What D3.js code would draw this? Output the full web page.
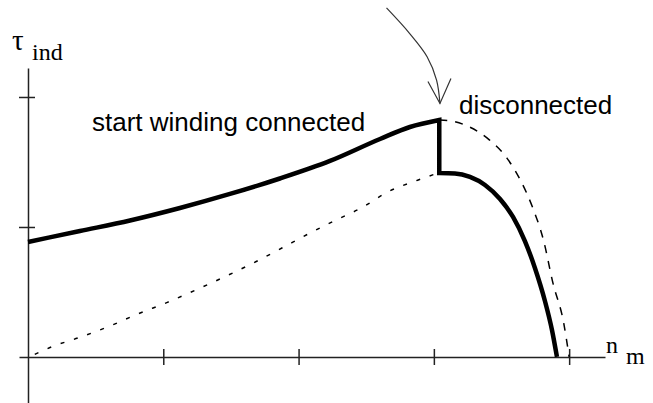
<!DOCTYPE html>
<html>
<head>
<meta charset="utf-8">
<script src="https://d3js.org/d3.v7.min.js"></script>
<style>
  body { margin: 0; background: #fff; }
  svg { display: block; }
</style>
</head>
<body>
<div id="chart"></div>
<script>
// speed in tick units (4 = synchronous speed), torque in tick units
const connSpeed = [0, 0.384, 0.754, 1.123, 1.493, 1.862, 2.232, 2.602, 2.823, 3.04];
const connTorque = [0.885, 0.969, 1.050, 1.146, 1.254, 1.373, 1.508, 1.677, 1.769, 1.823];

const discSpeed = [3.04, 3.156, 3.267, 3.378, 3.489, 3.585, 3.673, 3.747, 3.821, 3.873, 3.91];
const discTorque = [1.415, 1.412, 1.385, 1.323, 1.215, 1.077, 0.892, 0.685, 0.431, 0.208, 0];

const startSpeed = [3.04, 3.13, 3.24, 3.41, 3.54, 3.64, 3.73, 3.81, 3.88, 3.96, 4.0];
const startTorque = [1.823, 1.815, 1.78, 1.67, 1.53, 1.36, 1.15, 0.90, 0.57, 0.26, 0];

const mainSpeed = [0.05, 0.18, 0.38, 0.61, 0.81, 1.03, 1.25, 1.46, 1.66, 1.88, 2.06, 2.27, 2.47, 2.66, 2.88, 3.03];
const mainTorque = [0.02, 0.08, 0.15, 0.24, 0.33, 0.42, 0.52, 0.62, 0.72, 0.84, 0.94, 1.05, 1.15, 1.27, 1.36, 1.415];

const arrowSpeed = [2.65, 2.82, 2.95, 3.02, 3.045];
const arrowTorque = [2.685, 2.49, 2.31, 2.13, 1.95];

const xTicks = [1, 2, 3, 4];
const yTicks = [1, 2];

const width = 653;
const height = 403;

const svg = d3.select("#chart")
  .append("svg")
  .attr("width", width)
  .attr("height", height);

const x = d3.scaleLinear().domain([-0.0665, 4.265]).range([19, 605]);
const y = d3.scaleLinear().domain([-0.354, 2.223]).range([403, 68]);

const zip = (a, b) => a.map((v, i) => [v, b[i]]);

// axes
const xAxis = svg.append("g")
  .attr("transform", `translate(0,${y(0)})`)
  .call(d3.axisBottom(x).tickValues(xTicks).tickFormat("").tickSizeOuter(0));
xAxis.selectAll(".tick line").attr("y1", -8).attr("y2", 8);

const yAxis = svg.append("g")
  .attr("transform", `translate(${x(0)},0)`)
  .call(d3.axisLeft(y).tickValues(yTicks).tickFormat("").tickSizeOuter(0));
yAxis.selectAll(".tick line").attr("x1", -9).attr("x2", 7);

svg.selectAll(".domain, .tick line")
  .attr("stroke", "#222")
  .attr("stroke-width", 1.5);

const line = d3.line()
  .x(d => x(d[0]))
  .y(d => y(d[1]))
  .curve(d3.curveMonotoneX);

// main winding only (dotted)
svg.append("path")
  .attr("d", line(zip(mainSpeed, mainTorque)))
  .attr("fill", "none")
  .attr("stroke", "#000")
  .attr("stroke-width", 1.5)
  .attr("stroke-dasharray", "4,10");

// start winding kept connected (dashed)
svg.append("path")
  .attr("d", line(zip(startSpeed, startTorque)))
  .attr("fill", "none")
  .attr("stroke", "#000")
  .attr("stroke-width", 1.5)
  .attr("stroke-dasharray", "8,8");

// actual characteristic (thick)
const dThick = line(zip(connSpeed, connTorque)) +
  line(zip(discSpeed, discTorque)).replace(/^M/, "L");
svg.append("path")
  .attr("d", dThick)
  .attr("fill", "none")
  .attr("stroke", "#000")
  .attr("stroke-width", 4.5)
  .attr("stroke-linejoin", "miter");

// curved arrow to switch point
const arrowPts = zip(arrowSpeed, arrowTorque);
svg.append("path")
  .attr("d", d3.line().x(d => x(d[0])).y(d => y(d[1])).curve(d3.curveCatmullRom)(arrowPts))
  .attr("fill", "none")
  .attr("stroke", "#333")
  .attr("stroke-width", 1.2);
const tip = arrowPts[arrowPts.length - 1];
svg.append("path")
  .attr("d", `M${x(tip[0]) - 12},${y(tip[1]) - 22}L${x(tip[0])},${y(tip[1])}L${x(tip[0]) + 11},${y(tip[1]) - 25}`)
  .attr("fill", "none")
  .attr("stroke", "#333")
  .attr("stroke-width", 1.2);

// labels
const sans = "Liberation Sans, Arial, sans-serif";
const serif = "Liberation Serif, Times New Roman, serif";

svg.append("text").attr("x", 92).attr("y", 131)
  .attr("font-family", sans).attr("font-size", 26)
  .text("start winding connected");
svg.append("text").attr("x", 459).attr("y", 114)
  .attr("font-family", sans).attr("font-size", 26)
  .text("disconnected");

svg.append("text").attr("x", 12).attr("y", 50)
  .attr("font-family", serif).attr("font-size", 29).text("τ");
svg.append("text").attr("x", 32).attr("y", 60)
  .attr("font-family", serif).attr("font-size", 24).text("ind");

svg.append("text").attr("x", 606).attr("y", 353)
  .attr("font-family", serif).attr("font-size", 24).text("n");
svg.append("text").attr("x", 626).attr("y", 364)
  .attr("font-family", serif).attr("font-size", 24).text("m");
</script>
</body>
</html>
